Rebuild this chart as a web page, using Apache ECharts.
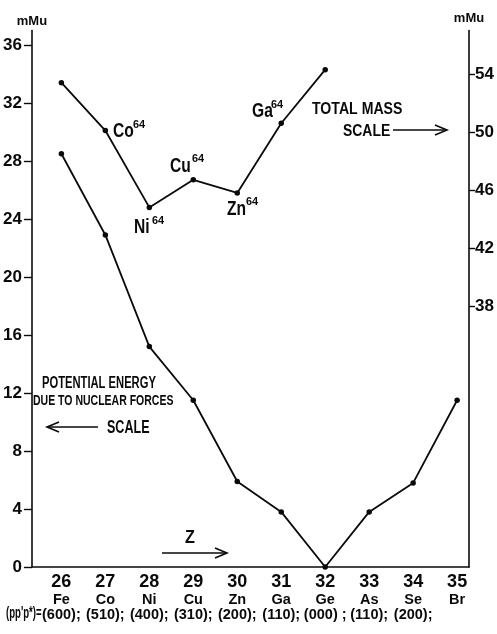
<!DOCTYPE html>
<html>
<head>
<meta charset="utf-8">
<script src="https://cdn.jsdelivr.net/npm/echarts@6/dist/echarts.min.js"></script>
<style>
html, body { margin: 0; padding: 0; background: #fff; }
#chart { width: 497px; height: 634px; }
</style>
</head>
<body>
<div id="chart"></div>
<script>
// Atomic number Z along the bottom, with element symbol and (pp'p*) configuration
const atomicNumbers = [26, 27, 28, 29, 30, 31, 32, 33, 34, 35];
const elements = ['Fe', 'Co', 'Ni', 'Cu', 'Zn', 'Ga', 'Ge', 'As', 'Se', 'Br'];
const configurations = ['(600);', '(510);', '(400);', '(310);', '(200);', '(110);', '(000) ;', '(110);', '(200);', ''];

// Potential energy due to nuclear forces (mMu, left scale), Z = 26..35
const potentialEnergy = [28.5, 22.9, 15.2, 11.5, 5.9, 3.8, 0, 3.8, 5.8, 11.5];

// Total mass of the A = 64 isobars (mMu, right scale), Z = 26..32
const massZ = [26, 27, 28, 29, 30, 31, 32];
const totalMass = [53.4, 50.1, 44.8, 46.7, 45.8, 50.6, 54.3];

// Axis tick labels
const leftTicks = [0, 4, 8, 12, 16, 20, 24, 28, 32, 36];
const rightTicks = [38, 42, 46, 50, 54];

const FONT = '"Liberation Sans", Arial, sans-serif';
const INK = '#0a0a0a';

const chart = echarts.init(document.getElementById('chart'), null, { renderer: 'canvas' });

function arrow(x1, x2, y, head) {
  // straight horizontal arrow with an open head at x2
  const d = x2 > x1 ? -1 : 1;
  return {
    type: 'group',
    children: [
      { type: 'line', shape: { x1: x1, y1: y, x2: x2, y2: y }, style: { stroke: INK, lineWidth: 1.6 } },
      { type: 'polyline', shape: { points: [[x2 + d * head, y - head * 0.42], [x2, y], [x2 + d * head, y + head * 0.42]] },
        style: { stroke: INK, lineWidth: 1.6, fill: null } }
    ]
  };
}

// narrow lettering: text drawn at (x, y) and squeezed horizontally
function letter(t, x, y, size, squeeze) {
  return {
    type: 'text', x: x, y: y, scaleX: squeeze || 1, scaleY: 1,
    style: { text: t, x: 0, y: 0, font: 'bold ' + size + 'px ' + FONT, fill: INK, align: 'left', verticalAlign: 'middle' }
  };
}

// isotope label: symbol with mass number 64 as a superscript
function isotope(sym, x, y, supX, supY) {
  return {
    type: 'group',
    children: [
      letter(sym, x, y, 19.5, 0.8),
      letter('64', supX, supY, 11.5, 0.95)
    ]
  };
}

const option = {
  backgroundColor: '#fff',
  animation: false,
  grid: { left: 31.5, right: 28, top: 30.5, bottom: 67 },
  xAxis: {
    type: 'value', min: 25.33, max: 35.27,
    axisLine: { lineStyle: { color: INK, width: 1.6 } },
    axisTick: { show: false },
    splitLine: { show: false },
    axisLabel: {
      customValues: atomicNumbers,
      showMinLabel: true, showMaxLabel: true, hideOverlap: false,
      margin: 7,
      formatter: function (v) {
        const i = atomicNumbers.indexOf(Math.round(v));
        return '{n|' + v + '}\n{e|' + elements[i] + '}\n{c|' + configurations[i] + '}';
      },
      rich: {
        n: { fontFamily: FONT, fontSize: 18, fontWeight: 'bold', color: INK, lineHeight: 17 },
        e: { fontFamily: FONT, fontSize: 14.5, fontWeight: 'bold', color: INK, lineHeight: 17 },
        c: { fontFamily: FONT, fontSize: 14.5, fontWeight: 'bold', color: INK, lineHeight: 14 }
      }
    }
  },
  yAxis: [
    {
      type: 'value', min: 0, max: 37, position: 'left',
      name: 'mMu', nameLocation: 'end', nameGap: 3,
      nameTextStyle: { fontFamily: FONT, fontSize: 13, fontWeight: 'bold', color: INK, align: 'center' },
      axisLine: { show: true, lineStyle: { color: INK, width: 1.6 } },
      axisTick: { show: true, customValues: leftTicks, length: 8, lineStyle: { color: INK, width: 1.4 } },
      axisLabel: { customValues: leftTicks, showMinLabel: true, hideOverlap: false, margin: 10, fontFamily: FONT, fontSize: 17, fontWeight: 'bold', color: INK },
      splitLine: { show: false }
    },
    {
      type: 'value', min: 20, max: 57, position: 'right',
      name: 'mMu', nameLocation: 'end', nameGap: 6,
      nameTextStyle: { fontFamily: FONT, fontSize: 13, fontWeight: 'bold', color: INK, align: 'center' },
      axisLine: { show: true, lineStyle: { color: INK, width: 1.6 } },
      axisTick: { show: true, customValues: rightTicks, length: 6, lineStyle: { color: INK, width: 1.4 } },
      axisLabel: { customValues: rightTicks, margin: 6, fontFamily: FONT, fontSize: 17, fontWeight: 'bold', color: INK },
      splitLine: { show: false }
    }
  ],
  series: [
    {
      name: 'Potential energy', type: 'line', yAxisIndex: 0,
      data: atomicNumbers.map((z, i) => [z, potentialEnergy[i]]),
      symbol: 'circle', symbolSize: 5.5,
      lineStyle: { color: INK, width: 1.8 }, itemStyle: { color: INK }
    },
    {
      name: 'Total mass', type: 'line', yAxisIndex: 1,
      data: massZ.map((z, i) => [z, totalMass[i]]),
      symbol: 'circle', symbolSize: 5.5,
      lineStyle: { color: INK, width: 1.8 }, itemStyle: { color: INK }
    }
  ],
  graphic: [
    isotope('Co', 113, 132, 133, 124.5),
    isotope('Cu', 170, 167, 192, 158.5),
    isotope('Ni', 134, 227.5, 152, 220.5),
    isotope('Zn', 227, 210, 246, 201.5),
    isotope('Ga', 252, 111.5, 271, 104.5),
    letter('TOTAL MASS', 312, 109.5, 17, 0.83),
    letter('SCALE', 343, 131, 17, 0.82),
    arrow(393, 447, 130, 12),
    letter('POTENTIAL ENERGY', 42, 384, 16, 0.7),
    letter('DUE TO NUCLEAR FORCES', 33, 400.5, 15, 0.7),
    letter('SCALE', 107, 428, 19, 0.66),
    arrow(98, 47, 427, 12),
    letter('Z', 185, 538, 18, 0.9),
    arrow(162, 227, 553, 12),
    letter("(pp'p*)=", 6, 614, 16, 0.6)
  ]
};

chart.setOption(option);
</script>
</body>
</html>
